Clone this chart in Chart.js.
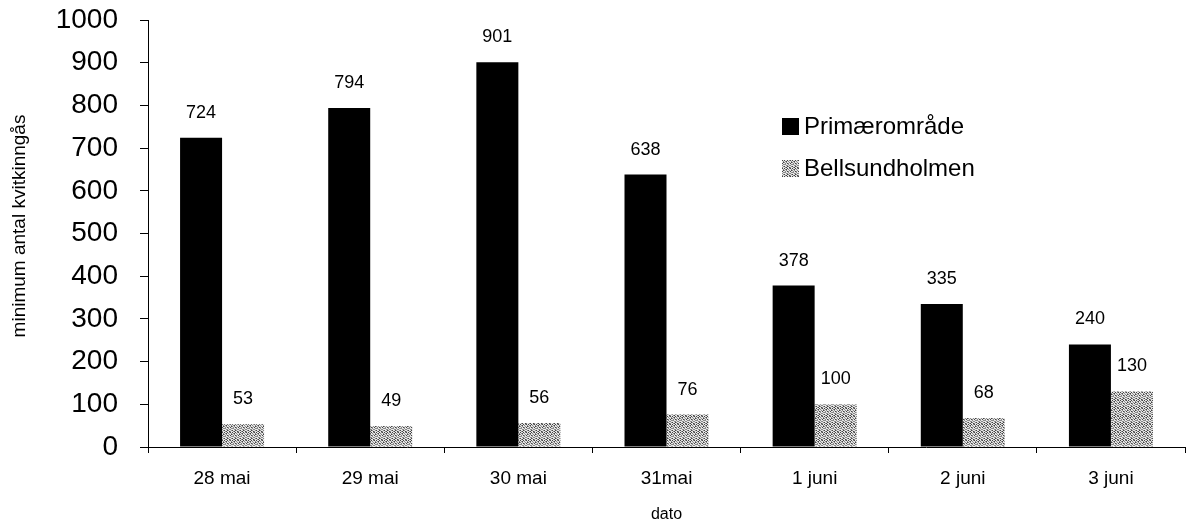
<!DOCTYPE html>
<html>
<head>
<meta charset="utf-8">
<script src="https://cdn.jsdelivr.net/npm/chart.js@4"></script>
<style>
html,body{margin:0;padding:0;background:#fff;}
#wrap{width:1187px;height:523px;position:relative;}
</style>
</head>
<body>
<div id="wrap"><canvas id="c" width="1187" height="523"></canvas></div>
<script>
const categories = ["28 mai", "29 mai", "30 mai", "31mai", "1 juni", "2 juni", "3 juni"];
const primaer = [724, 794, 901, 638, 378, 335, 240];
const bellsund = [53, 49, 56, 76, 100, 68, 130];
const seriesNames = ["Primærområde", "Bellsundholmen"];
const yTicks = [0, 100, 200, 300, 400, 500, 600, 700, 800, 900, 1000];
const yTitle = "minimum antal kvitkinngås";
const xTitle = "dato";

const FONT = "'Liberation Sans', Arial, Helvetica, sans-serif";

// deterministic speckle texture for the grey bars
function makePattern() {
  const rows = [
    "10010110",
    "01101001",
    "10100101",
    "01011010",
    "11001001",
    "00110110",
    "10011001",
    "01100110"
  ];
  const pc = document.createElement('canvas');
  pc.width = 8; pc.height = 8;
  const g = pc.getContext('2d');
  g.fillStyle = '#e6e6e6';
  g.fillRect(0, 0, 8, 8);
  for (let y = 0; y < 8; y++) {
    for (let x = 0; x < 8; x++) {
      if (rows[y][x] === '1') {
        g.fillStyle = ((x + y) % 3 === 0) ? '#444' : '#8a8a8a';
        g.fillRect(x, y, 1, 1);
      }
    }
  }
  return g.createPattern(pc, 'repeat');
}
const greyPattern = makePattern();

const extras = {
  id: 'extras',
  afterDatasetsDraw(chart) {
    const ctx = chart.ctx;
    ctx.save();
    // value labels
    ctx.fillStyle = '#000';
    ctx.font = "18px " + FONT;
    ctx.textAlign = 'center';
    ctx.textBaseline = 'middle';
    chart.data.datasets.forEach((ds, i) => {
      const meta = chart.getDatasetMeta(i);
      meta.data.forEach((bar, j) => {
        ctx.fillText(String(ds.data[j]), bar.x, bar.y - 25);
      });
    });
    // legend
    const lx = 782, ly = [126, 168];
    ctx.font = "24px " + FONT;
    ctx.textAlign = 'left';
    chart.data.datasets.forEach((ds, i) => {
      ctx.fillStyle = ds.backgroundColor;
      ctx.fillRect(lx, ly[i] - 8, 17, 17);
      ctx.fillStyle = '#000';
      ctx.fillText(ds.label, lx + 22, ly[i] + 1);
    });
    // axis titles
    ctx.font = "16px " + FONT;
    ctx.textAlign = 'center';
    ctx.fillText(xTitle, (chart.chartArea.left + chart.chartArea.right) / 2, 515);
    ctx.save();
    ctx.translate(20, 226);
    ctx.rotate(-Math.PI / 2);
    ctx.font = "19px " + FONT;
    ctx.fillText(yTitle, 0, 0);
    ctx.restore();
    ctx.restore();
  }
};

new Chart(document.getElementById('c'), {
  type: 'bar',
  data: {
    labels: categories,
    datasets: [
      { label: seriesNames[0], data: primaer, backgroundColor: '#000000', borderWidth: 0 },
      { label: seriesNames[1], data: bellsund, backgroundColor: greyPattern, borderWidth: 0 }
    ]
  },
  options: {
    responsive: false,
    animation: false,
    devicePixelRatio: 1,
    layout: { padding: { top: 20, right: 2, left: 0, bottom: 0 } },
    datasets: { bar: { barPercentage: 1.0, categoryPercentage: 0.567 } },
    plugins: { legend: { display: false }, tooltip: { enabled: false } },
    scales: {
      x: {
        grid: { display: true, drawOnChartArea: false, drawTicks: true, tickLength: 6, color: '#000', offset: true },
        border: { display: true, color: '#000', width: 1 },
        ticks: { color: '#000', font: { family: FONT, size: 19 }, padding: 14, maxRotation: 0 },
        afterFit(s) { s.height = 76; s.paddingLeft = 0; s.paddingRight = 0; }
      },
      y: {
        min: 0, max: 1000,
        afterBuildTicks(s) { s.ticks = yTicks.map(v => ({ value: v })); },
        grid: { display: true, drawOnChartArea: false, drawTicks: true, tickLength: 8, color: '#000' },
        border: { display: true, color: '#000', width: 1 },
        ticks: { color: '#000', font: { family: FONT, size: 28 }, padding: 22, callback: (v) => String(v) },
        afterFit(s) { s.width = 148; s.paddingTop = 0; s.paddingBottom = 0; }
      }
    }
  },
  plugins: [extras]
});
</script>
</body>
</html>
